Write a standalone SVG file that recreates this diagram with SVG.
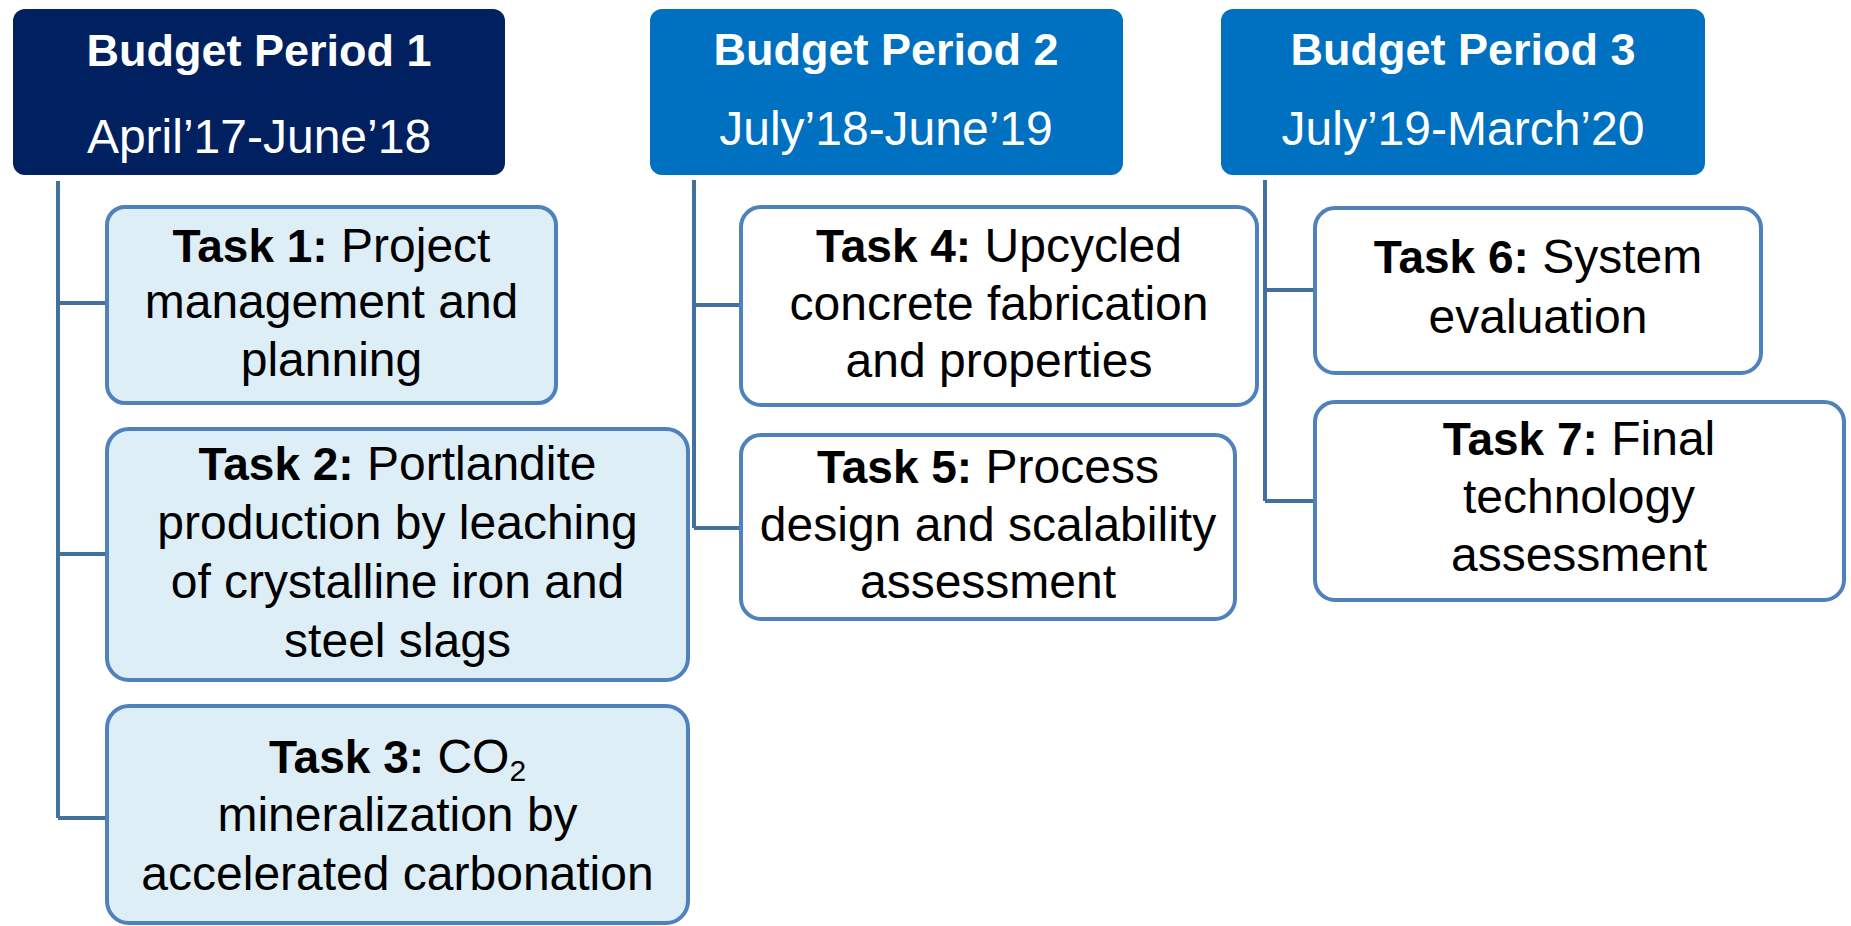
<svg xmlns="http://www.w3.org/2000/svg" width="1851" height="926" viewBox="0 0 1851 926">
<style>
.hdr1{fill:#002060}
.hdr{fill:#0070C0}
.task{stroke:#4F81BD;stroke-width:4}
.lb{fill:#DDEEF6}
.wh{fill:#FFFFFF}
.conn{fill:none;stroke:#41719C;stroke-width:4}
text{font-family:"Liberation Sans",Arial,sans-serif;text-anchor:middle}
.ht{fill:#FFFFFF}
.b{font-weight:bold}
.tt{fill:#000000;font-size:48px}
.tb{font-weight:bold;font-size:46px}
</style>
<rect width="1851" height="926" fill="#FFFFFF"/>
<g id="connectors">
<path class="conn" d="M58,181 V818 M58,303 H107 M58,554 H107 M58,818 H107"/>
<path class="conn" d="M694,180 V528 M694,305 H741 M694,528 H741"/>
<path class="conn" d="M1265,180 V501 M1265,290 H1315 M1265,501 H1315"/>
</g>
<g id="bp1">
<rect class="hdr1" x="13" y="9" width="492" height="166" rx="12"/>
<text class="ht b" x="259" y="66" font-size="45">Budget Period 1</text>
<text class="ht" x="259" y="153" font-size="48">April’17-June’18</text>
</g>
<g id="bp2">
<rect class="hdr" x="650" y="9" width="473" height="166" rx="12"/>
<text class="ht b" x="886" y="65" font-size="45">Budget Period 2</text>
<text class="ht" x="886" y="145" font-size="48">July’18-June’19</text>
</g>
<g id="bp3">
<rect class="hdr" x="1221" y="9" width="484" height="166" rx="12"/>
<text class="ht b" x="1463" y="65" font-size="45">Budget Period 3</text>
<text class="ht" x="1463" y="145" font-size="48">July’19-March’20</text>
</g>
<g id="task1">
<rect class="task lb" x="107" y="207" width="449" height="196" rx="18"/>
<text class="tt" x="331.5" y="262"><tspan class="tb">Task 1:</tspan> Project</text>
<text class="tt" x="331.5" y="318">management and</text>
<text class="tt" x="331.5" y="376">planning</text>
</g>
<g id="task2">
<rect class="task lb" x="107" y="429" width="581" height="251" rx="22"/>
<text class="tt" x="397.5" y="480"><tspan class="tb">Task 2:</tspan> Portlandite</text>
<text class="tt" x="397.5" y="539">production by leaching</text>
<text class="tt" x="397.5" y="598">of crystalline iron and</text>
<text class="tt" x="397.5" y="657">steel slags</text>
</g>
<g id="task3">
<rect class="task lb" x="107" y="706" width="581" height="217" rx="22"/>
<text class="tt" x="397.5" y="773"><tspan class="tb">Task 3:</tspan> CO<tspan font-size="30" dy="8">2</tspan></text>
<text class="tt" x="397.5" y="831">mineralization by</text>
<text class="tt" x="397.5" y="890">accelerated carbonation</text>
</g>
<g id="task4">
<rect class="task wh" x="741" y="207" width="516" height="198" rx="20"/>
<text class="tt" x="999" y="262"><tspan class="tb">Task 4:</tspan> Upcycled</text>
<text class="tt" x="999" y="320">concrete fabrication</text>
<text class="tt" x="999" y="377">and properties</text>
</g>
<g id="task5">
<rect class="task wh" x="741" y="435" width="494" height="184" rx="20"/>
<text class="tt" x="988" y="483"><tspan class="tb">Task 5:</tspan> Process</text>
<text class="tt" x="988" y="541">design and scalability</text>
<text class="tt" x="988" y="598">assessment</text>
</g>
<g id="task6">
<rect class="task wh" x="1315" y="208" width="446" height="165" rx="20"/>
<text class="tt" x="1538" y="273"><tspan class="tb">Task 6:</tspan> System</text>
<text class="tt" x="1538" y="333">evaluation</text>
</g>
<g id="task7">
<rect class="task wh" x="1315" y="402" width="529" height="198" rx="20"/>
<text class="tt" x="1579" y="455"><tspan class="tb">Task 7:</tspan> Final</text>
<text class="tt" x="1579" y="513">technology</text>
<text class="tt" x="1579" y="571">assessment</text>
</g>
</svg>
